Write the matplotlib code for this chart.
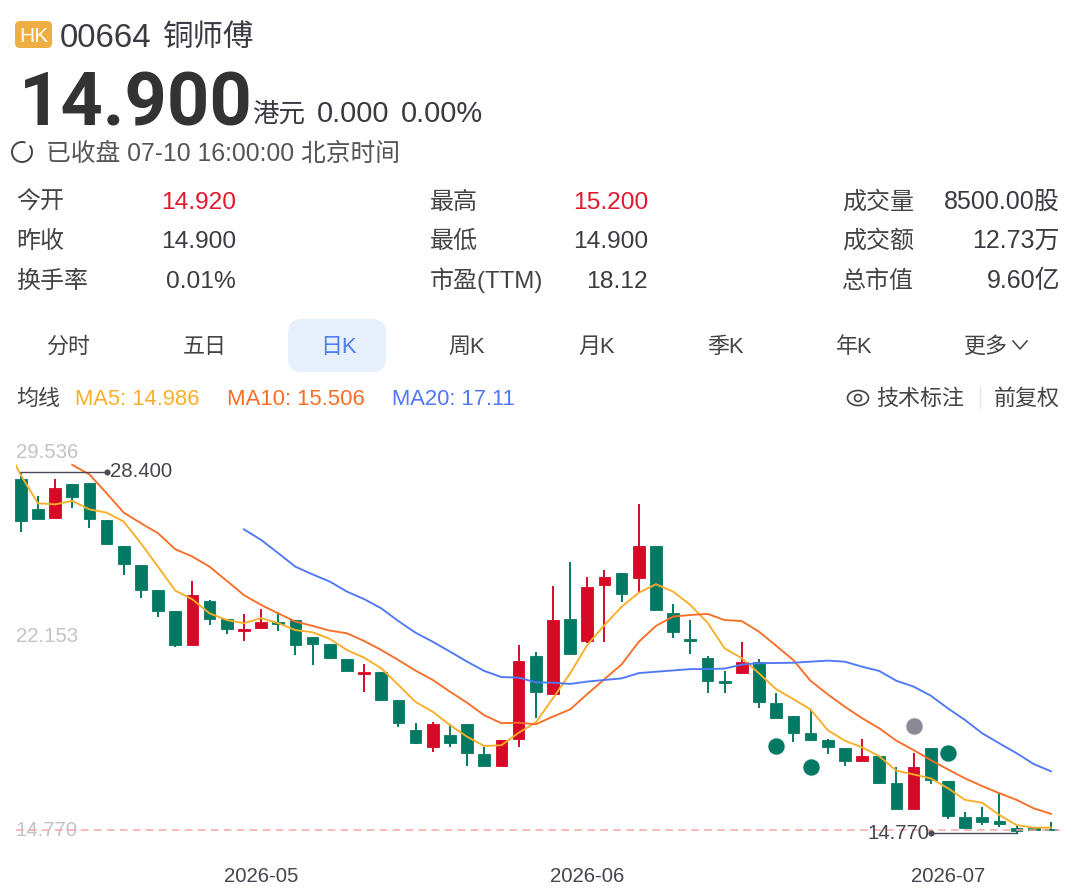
#!/usr/bin/env python3

import matplotlib
matplotlib.use("Agg")
import matplotlib.pyplot as plt
from matplotlib.patches import Circle, Ellipse, FancyBboxPatch, Arc

plt.rcParams["font.family"] = ["Liberation Sans", "Noto Sans CJK SC", "DejaVu Sans"]

# Daily candles
opens = [28.12, 26.98, 26.65, 27.93, 27.99, 26.58, 25.60, 24.90, 23.94, 23.14,
         21.87, 23.53, 22.84, 22.40, 22.50, 22.72, 22.80, 22.17, 21.89, 21.33,
         20.79, 20.86, 19.80, 18.66, 18.02, 18.48, 18.88, 17.76, 17.31, 18.31,
         21.47, 20.01, 22.86, 22.01, 24.12, 24.59, 24.40, 25.60, 23.09, 22.11,
         21.38, 20.50, 20.82, 21.24, 19.69, 19.20, 18.54, 18.29, 17.98, 17.48,
         17.68, 16.66, 15.70, 17.98, 16.75, 15.38, 15.37, 15.22, 14.98, 14.96, 14.92]
closes = [26.54, 26.62, 27.80, 27.46, 26.62, 25.68, 24.92, 23.95, 23.15, 21.87,
          23.74, 22.85, 22.48, 22.47, 22.74, 22.66, 21.87, 21.92, 21.37, 20.89,
          20.85, 19.81, 18.94, 18.16, 18.89, 18.19, 17.79, 17.31, 18.29, 21.27,
          20.11, 22.80, 21.53, 24.07, 24.42, 23.79, 25.60, 23.19, 22.35, 22.02,
          20.52, 20.43, 21.23, 19.72, 19.13, 18.56, 18.30, 18.01, 17.48, 17.67,
          16.68, 15.70, 17.28, 16.78, 15.42, 14.96, 15.21, 15.12, 14.85, 14.90, 14.90]
highs = [28.40, 27.50, 28.12, 27.93, 27.99, 26.58, 25.60, 24.90, 23.94, 23.14,
         24.27, 23.57, 22.84, 23.04, 23.21, 23.10, 22.80, 22.17, 21.89, 21.33,
         21.15, 20.86, 19.80, 18.94, 18.98, 18.89, 18.88, 18.03, 18.29, 21.87,
         21.62, 24.09, 25.01, 24.44, 24.69, 24.59, 27.18, 25.60, 23.40, 22.81,
         21.45, 20.90, 21.99, 21.34, 20.07, 19.20, 19.47, 18.32, 17.98, 18.34,
         17.68, 17.28, 17.79, 17.98, 16.75, 15.56, 15.77, 16.28, 15.08, 14.98, 15.20]
lows = [26.14, 26.62, 26.65, 27.02, 26.27, 25.64, 24.51, 23.65, 22.91, 21.80,
        21.87, 22.61, 22.29, 22.01, 22.48, 22.41, 21.50, 21.10, 21.33, 20.89,
        20.11, 19.81, 18.79, 18.14, 17.82, 18.01, 17.31, 17.31, 17.31, 18.01,
        19.11, 20.01, 21.53, 21.93, 21.99, 23.50, 23.82, 23.19, 22.13, 21.53,
        20.05, 20.05, 20.82, 19.50, 19.13, 18.21, 18.30, 17.76, 17.31, 17.48,
        16.68, 15.70, 15.70, 16.62, 15.30, 14.96, 15.09, 15.02, 14.77, 14.90, 14.90]

# Moving averages; each one starts at its own candle
ma5_start = -1
ma5 = [29.56, 28.28, 27.21, 27.17, 27.30, 26.98, 26.86, 26.52, 25.70, 24.82, 23.92,
       23.59, 23.06, 22.81, 22.69, 22.88, 22.69, 22.43, 22.35, 22.10, 21.68,
       21.39, 20.99, 20.36, 19.72, 19.35, 18.85, 18.41, 18.06, 18.09, 18.56,
       18.95, 19.86, 20.80, 21.87, 22.62, 23.31, 23.84, 24.16, 23.88, 23.38,
       22.71, 21.74, 21.37, 20.80, 20.20, 19.83, 19.44, 18.66, 18.26, 18.01,
       17.68, 17.13, 16.99, 16.84, 16.47, 16.03, 15.92, 15.46, 15.08, 14.98, 14.986]
ma10_start = 3
ma10 = [28.66, 28.30, 27.59, 26.86, 26.46, 26.08, 25.48, 25.20, 24.82, 24.29,
        23.75, 23.38, 23.06, 22.75, 22.59, 22.41, 22.31, 22.02, 21.68, 21.30,
        20.90, 20.55, 20.11, 19.69, 19.22, 18.92, 18.94, 18.88, 19.17, 19.44,
        20.02, 20.58, 21.14, 21.99, 22.59, 22.94, 23.00, 23.04, 22.81, 22.77,
        22.37, 21.84, 21.30, 20.52, 20.01, 19.54, 19.11, 18.73, 18.26, 17.91,
        17.53, 17.18, 16.84, 16.55, 16.28, 16.03, 15.71, 15.506]
ma20_start = 13
ma20 = [26.23, 25.83, 25.33, 24.82, 24.53, 24.26, 23.88, 23.60, 23.25, 22.77,
        22.33, 21.99, 21.62, 21.24, 20.89, 20.66, 20.64, 20.46, 20.45, 20.40,
        20.49, 20.55, 20.61, 20.81, 20.86, 20.91, 20.96, 20.96, 20.98, 21.13,
        21.18, 21.19, 21.20, 21.24, 21.28, 21.24, 21.05, 20.89, 20.52, 20.30,
        19.96, 19.48, 19.04, 18.54, 18.16, 17.79, 17.38, 17.11]

# Round trade markers
green_dot_idx = [44, 46, 54]
green_dot_val = [18.06, 17.27, 17.81]
gray_dot_idx = [52]
gray_dot_val = [18.83]

# Axis
price_min = 14.77
price_max = 29.536
last_price = 14.90
y_ticks = [29.536, 22.153, 14.770]
y_labels = ["29.536", "22.153", "14.770"]
date_idx = [14, 33, 54]
date_labels = ["2026-05", "2026-06", "2026-07"]

# Quote panel
rows_left = [("今开", "14.920"), ("昨收", "14.900"), ("换手率", "0.01%")]
rows_mid = [("最高", "15.200"), ("最低", "14.900"), ("市盈(TTM)", "18.12")]
rows_right = [("成交量", "8500.00股"), ("成交额", "12.73万"), ("总市值", "9.60亿")]
tabs = ["分时", "五日", "日K", "周K", "月K", "季K", "年K", "更多"]

W, H = 1080, 893
GREEN = "#027A63"
RED = "#D60A27"
DARK = "#3A3A42"


def px(size):
    """Font size in points for an em size in pixels"""
    return size * 0.72


def label(ax, x, y, s, size, color=DARK, ha="left", **kw):
    # y is the visual middle of the digits, so go through the baseline
    ax.text(x, y + 0.36 * size, s, fontsize=px(size), color=color, ha=ha, va="baseline", **kw)


def draw_chart(fig):
    # The chart area sits at fixed pixels inside the figure
    left, right, top, bottom = 15.7, 1060.0, 441.6, 833.3
    ax = fig.add_axes([left / W, 1 - bottom / H, (right - left) / W, (bottom - top) / H])
    step = 17.17
    ax.set_xlim((left - 20.7) / step, (right - 20.7) / step)
    ax.set_ylim(price_min, price_max)
    ax.patch.set_alpha(0)
    for s in ax.spines.values():
        s.set_visible(False)
    ax.set_yticks([])
    ax.set_xticks(date_idx, date_labels, fontsize=14.7, color="#45454F")
    ax.tick_params(axis="x", length=0, pad=24)

    # Candles
    for i in range(len(opens)):
        c = RED if closes[i] >= opens[i] else GREEN
        ax.vlines(i, lows[i], highs[i], color=c, lw=1.4, zorder=3, clip_on=False)
        ax.bar(i, abs(closes[i] - opens[i]), bottom=min(opens[i], closes[i]), width=0.68,
               color=c, edgecolor=c, lw=0.6, zorder=3, clip_on=False)

    # Moving averages
    for start, vals, c in [(ma5_start, ma5, "#FBAE28"), (ma10_start, ma10, "#F96E26"),
                           (ma20_start, ma20, "#4F78F8")]:
        ax.plot(range(start, start + len(vals)), vals, color=c, lw=1.35, zorder=4)

    # Markers
    ax.scatter(green_dot_idx, green_dot_val, s=150, color=GREEN, edgecolor="#DDEBE7", lw=0.5, zorder=5)
    ax.scatter(gray_dot_idx, gray_dot_val, s=150, color="#8A8A96", edgecolor="#E4E4E8", lw=0.5, zorder=5)

    # Last price line
    ax.axhline(last_price, color="#F6A5A5", lw=1.1, dashes=(5, 3.5), zorder=6, clip_on=False)

    # High and low call-outs
    hi_i = highs.index(max(highs))
    lo_i = lows.index(min(lows))
    ax.plot([hi_i, hi_i + 5], [highs[hi_i]] * 2, color="#4A4A55", lw=1.0, zorder=6,
            clip_on=False)
    ax.plot([hi_i + 5], [highs[hi_i]], "o", ms=3.4, color="#4A4A55", zorder=6)
    ax.annotate("28.400", (hi_i + 5, highs[hi_i]), xytext=(2.5, 0.5), textcoords="offset points",
                fontsize=14.7, color="#45454F", va="center", ha="left", zorder=6)
    ax.plot([lo_i - 5, lo_i], [lows[lo_i]] * 2, color="#4A4A55", lw=1.0, zorder=6,
            clip_on=False)
    ax.plot([lo_i - 5], [lows[lo_i]], "o", ms=3.4, color="#4A4A55", zorder=6, clip_on=False)
    ax.annotate("14.770", (lo_i - 5, lows[lo_i]), xytext=(-1, 0), textcoords="offset points",
                fontsize=14.7, color="#45454F", va="center", ha="right", zorder=6)

    # Y labels sit inside the plot
    offsets = [-8, 0.8, 2.3]
    for val, txt, off in zip(y_ticks, y_labels, offsets):
        ax.annotate(txt, (ax.get_xlim()[0], val), xytext=(0, off), textcoords="offset points",
                    fontsize=14.7, color="#C2C2CA", va="center", ha="left", zorder=1)


def draw_header(fig):
    # Overlay in pixel coordinates for the quote panel
    ax = fig.add_axes([0, 0, 1, 1])
    ax.set_xlim(0, W)
    ax.set_ylim(H, 0)
    ax.axis("off")
    ax.patch.set_alpha(0)

    # Title
    ax.add_patch(FancyBboxPatch((19, 25), 29, 19, boxstyle="round,pad=4,rounding_size=5",
                                fc="#EFAE42", ec="none"))
    label(ax, 33.5, 34.5, "HK", 21, color="white", ha="center")
    label(ax, 60, 35, "00664", 33)
    label(ax, 163, 35, "铜师傅", 30.5)

    # Price
    ax.text(19, 125.5, "14.900", fontsize=px(74), fontfamily="Roboto", fontweight="bold",
            color="#333333", va="baseline", ha="left")
    label(ax, 252, 112, "港元", 26.5)
    label(ax, 317, 112, "0.000", 29)
    label(ax, 401, 112, "0.00%", 29)

    # Status line
    ax.add_patch(Arc((22, 152), 20, 20, theta1=-40, theta2=290, ec="#444444", lw=1.4))
    label(ax, 46, 152, "已收盘 07-10 16:00:00 北京时间", 24.8, color="#555555")

    # Table
    for y, a, b, c in zip([200, 239, 279], rows_left, rows_mid, rows_right):
        label(ax, 16, y, a[0], 24, color="#444444")
        label(ax, 236, y, a[1], 24.5, ha="right", color=("#E0182D" if a[0] == "今开" else DARK))
        label(ax, 430, y, b[0], 24, color="#444444")
        label(ax, 648, y, b[1], 24.5, ha="right", color=("#E0182D" if b[0] == "最高" else DARK))
        label(ax, 842, y, c[0], 24, color="#444444")
        label(ax, 1060, y, c[1], 25, ha="right")

    # Tabs
    ax.add_patch(FancyBboxPatch((300, 331), 74, 29, boxstyle="round,pad=12,rounding_size=14",
                                fc="#E6F0FD", ec="none"))
    centers = [68, 205, 338, 467, 597, 725, 854, 985]
    for s, cx in zip(tabs, centers):
        label(ax, cx, 345, s, 22, ha="center", color=("#4F7CF0" if s == "日K" else "#444444"))
    ax.plot([1013, 1020, 1027], [341, 349, 341], color="#444444", lw=1.1)

    # Moving average legend
    label(ax, 16, 397, "均线", 22, color="#444444")
    label(ax, 75, 397, "MA5: 14.986", 22, color="#FBAE28")
    label(ax, 227, 397, "MA10: 15.506", 22.2, color="#F96E26")
    label(ax, 392, 397, "MA20: 17.11", 22, color="#4F78F8")
    ax.add_patch(Ellipse((858, 398), 21, 15, fc="none", ec="#444444", lw=1.2))
    ax.add_patch(Circle((858, 398), 3.5, fc="none", ec="#444444", lw=1.2))
    label(ax, 876, 397, "技术标注", 22, color="#444444")
    ax.plot([980, 980], [387, 408], color="#E2E2E6", lw=1)
    label(ax, 994, 397, "前复权", 22, color="#444444")


def draw():
    fig = plt.figure(figsize=(W / 100, H / 100), dpi=100, facecolor="white")
    draw_chart(fig)
    draw_header(fig)
    fig.savefig("out.png", dpi=100, facecolor="white")


draw()
